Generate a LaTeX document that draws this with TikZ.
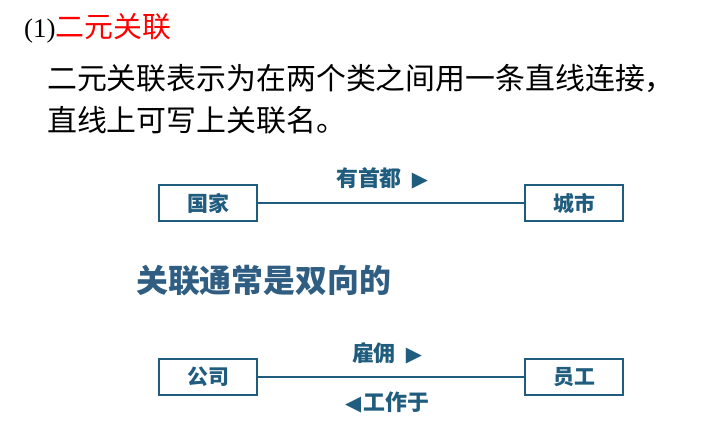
\documentclass[tikz,border=0pt]{standalone}
\usepackage{fontspec}
\setmainfont{Liberation Serif}
\newfontfamily\cjk{Noto Sans CJK SC}
\newfontfamily\sym{DejaVu Sans}
\definecolor{tealblue}{HTML}{1F5C7E}
\definecolor{titleblue}{HTML}{2F5E82}
\begin{document}
\begin{tikzpicture}[x=1bp,y=-1bp,
  cls/.style={draw=tealblue,line width=1.6bp,minimum width=98bp,minimum height=36bp,inner sep=0pt,font=\cjk\bfseries\fontsize{21}{21}\selectfont,text=tealblue},
  lbl/.style={font=\cjk\bfseries\fontsize{22}{22}\selectfont,text=tealblue,inner sep=0pt},
  assoc/.style={draw=tealblue,line width=1.2bp}]
\useasboundingbox (0,0) rectangle (702,422);
\node[anchor=west,inner sep=0pt] (t) at (24,28) {\fontsize{27}{27}\selectfont(1)\textcolor{red}{\cjk\fontsize{29}{29}\selectfont 二元关联}};
\node[anchor=west,inner sep=0pt,font=\cjk\fontsize{30}{30}\selectfont] (p1) at (47,78) {二元关联表示为在两个类之间用一条直线连接，};
\node[anchor=west,inner sep=0pt,font=\cjk\fontsize{30}{30}\selectfont] (p2) at (47,120) {直线上可写上关联名。};
\node[cls] (a) at (208,203) {国家};
\node[cls] (b) at (574,203) {城市};
\draw[assoc] (a) -- (b);
\node[lbl] (l1) at (382,178) {有首都\hspace{10bp}{\sym\fontsize{21}{21}\selectfont ▶}};
\node[anchor=west,inner sep=0pt,font=\cjk\bfseries\fontsize{32}{32}\selectfont,text=titleblue] (h) at (136,281) {关联通常是双向的};
\node[cls] (c) at (208,377) {公司};
\node[cls] (d) at (574,377) {员工};
\draw[assoc] (c) -- (d);
\node[lbl] (l2) at (387,353) {雇佣\hspace{10bp}{\sym\fontsize{21}{21}\selectfont ▶}};
\node[lbl] (l3) at (387,402) {{\sym\fontsize{21}{21}\selectfont ◀}\hspace{2bp}工作于};
\end{tikzpicture}
\end{document}
